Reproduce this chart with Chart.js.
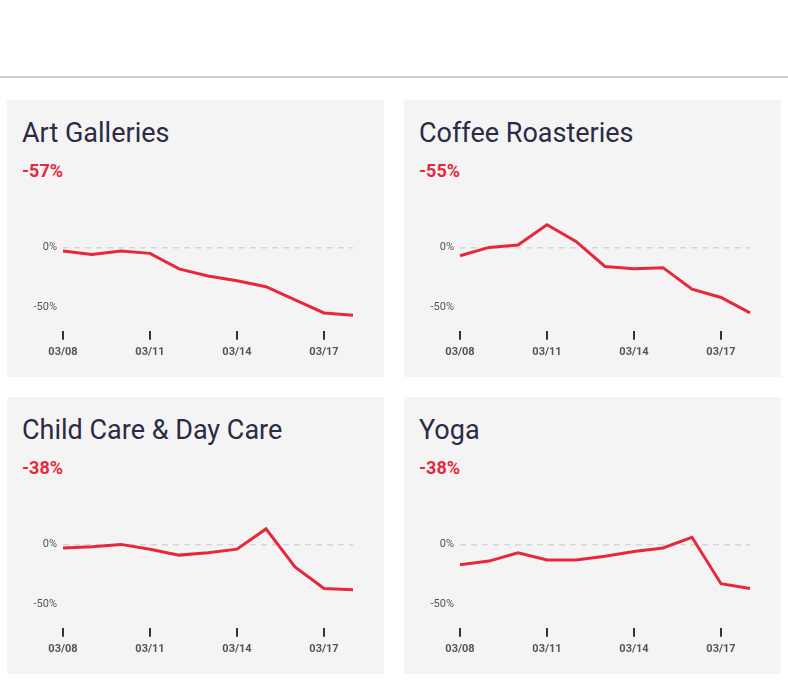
<!DOCTYPE html>
<html>
<head>
<meta charset="utf-8">
<script src="https://cdn.jsdelivr.net/npm/chart.js@4"></script>
<style>
  body { margin:0; background:#fff; font-family: Roboto, "Noto Sans", sans-serif; }
  .rule { position:absolute; left:0; top:76px; width:788px; height:2px; background:#d0d0d0; }
  .panel { position:absolute; width:377px; height:277px; background:#f4f4f4; }
  .title { position:absolute; left:15px; top:17px; font-size:27px; color:#2b2b45; }
  .pct { position:absolute; left:15px; top:60px; font-size:18px; font-weight:bold; color:#e8283a; }
  .panel canvas { position:absolute; left:0; top:105px; }
</style>
</head>
<body>
<div class="rule"></div>
<div class="panel" style="left:7px;top:100px"><div class="title">Art Galleries</div><div class="pct">-57%</div><canvas id="c0" width="377" height="160"></canvas></div>
<div class="panel" style="left:404px;top:100px"><div class="title">Coffee Roasteries</div><div class="pct">-55%</div><canvas id="c1" width="377" height="160"></canvas></div>
<div class="panel" style="left:7px;top:397px"><div class="title">Child Care &amp; Day Care</div><div class="pct">-38%</div><canvas id="c2" width="377" height="160"></canvas></div>
<div class="panel" style="left:404px;top:397px"><div class="title">Yoga</div><div class="pct">-38%</div><canvas id="c3" width="377" height="160"></canvas></div>
<script>
const dates = ['03/08','03/09','03/10','03/11','03/12','03/13','03/14','03/15','03/16','03/17','03/18'];
const shownDates = ['03/08','03/11','03/14','03/17'];
const artGalleries = [-3, -6, -3, -5, -18, -24, -28, -33, -44, -55, -57];
const coffeeRoasteries = [-7, 0, 2, 19, 5, -16, -18, -17, -35, -42, -55];
const childCare = [-3, -2, 0, -4, -9, -7, -4, 13, -19, -37, -38];
const yoga = [-17, -14, -7, -13, -13, -10, -6, -3, 6, -33, -37];
const yTicks = [0, -50];

function makeChart(id, values) {
  new Chart(document.getElementById(id), {
    type: 'line',
    data: { labels: dates, datasets: [{ data: values, borderColor: '#e8283a', borderWidth: 3, pointRadius: 0, tension: 0 }] },
    options: {
      responsive: false, animation: false,
      layout: { padding: { top: 8, right: 31 } },
      plugins: { legend: { display: false }, tooltip: { enabled: false } },
      scales: {
        x: {
          border: { display: false },
          grid: {
            drawOnChartArea: false, tickLength: 9, lineWidth: 2,
            color: ctx => shownDates.includes(dates[ctx.index]) ? '#333' : 'rgba(0,0,0,0)'
          },
          ticks: {
            autoSkip: false, maxRotation: 0, color: '#555', padding: 6,
            font: { size: 11, weight: 'bold', family: 'Roboto' },
            callback: (v, i) => shownDates.includes(dates[i]) ? dates[i] : ''
          }
        },
        y: {
          min: -70, max: 25,
          afterBuildTicks: ax => { ax.ticks = yTicks.map(v => ({ value: v })); },
          afterFit: ax => { ax.width = 56; },
          grid: {
            drawTicks: false, lineWidth: 1.5,
            color: ctx => ctx.tick && ctx.tick.value === 0 ? '#d6d6d6' : 'rgba(0,0,0,0)'
          },
          border: { display: false, dash: [6, 5] },
          ticks: {
            color: '#555', padding: 6, font: { size: 11, family: 'Roboto' },
            callback: v => v + '%'
          }
        }
      }
    }
  });
}
makeChart('c0', artGalleries);
makeChart('c1', coffeeRoasteries);
makeChart('c2', childCare);
makeChart('c3', yoga);
</script>
</body>
</html>
